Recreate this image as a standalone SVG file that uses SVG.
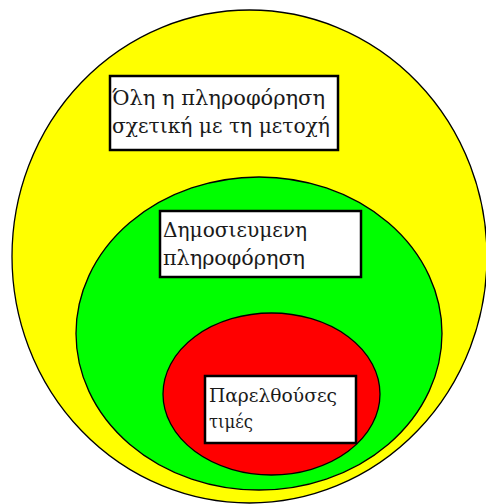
<svg xmlns="http://www.w3.org/2000/svg" width="486" height="504" viewBox="0 0 486 504">
<style>
.e{stroke:#000;stroke-width:1.3}
.box{fill:#fff;stroke:#000;stroke-width:2.5}
.t{font-family:"DejaVu Serif","Liberation Serif",serif;fill:#1a1a1a}
</style>
<rect width="486" height="504" fill="#fff"/>
<g id="outer">
<ellipse class="e" cx="249.5" cy="256.5" rx="237.5" ry="246.5" fill="#ffff00"/>
</g>
<g id="middle">
<ellipse class="e" cx="259" cy="333.5" rx="183" ry="156.5" fill="#00ff00"/>
</g>
<g id="inner">
<ellipse class="e" cx="271.5" cy="394" rx="108.5" ry="81" fill="#ff0000"/>
</g>
<g id="label-all">
<rect class="box" x="110" y="76" width="228" height="74"/>
<text class="t" font-size="21" x="112" y="105" textLength="213" lengthAdjust="spacingAndGlyphs">Όλη η πληροφόρηση</text>
<text class="t" font-size="21" x="112" y="133" textLength="218" lengthAdjust="spacingAndGlyphs">σχετική με τη μετοχή</text>
</g>
<g id="label-published">
<rect class="box" x="160" y="211" width="201" height="66"/>
<text class="t" font-size="21" x="163" y="237" textLength="144" lengthAdjust="spacingAndGlyphs">Δημοσιευμενη</text>
<text class="t" font-size="21" x="163" y="265" textLength="142" lengthAdjust="spacingAndGlyphs">πληροφόρηση</text>
</g>
<g id="label-past">
<rect class="box" x="205" y="376" width="151" height="67"/>
<text class="t" font-size="19" x="209" y="402" textLength="128" lengthAdjust="spacingAndGlyphs">Παρελθούσες</text>
<text class="t" font-size="19" x="209" y="428" textLength="44" lengthAdjust="spacingAndGlyphs">τιμές</text>
</g>
<g id="connectors"/>
</svg>
